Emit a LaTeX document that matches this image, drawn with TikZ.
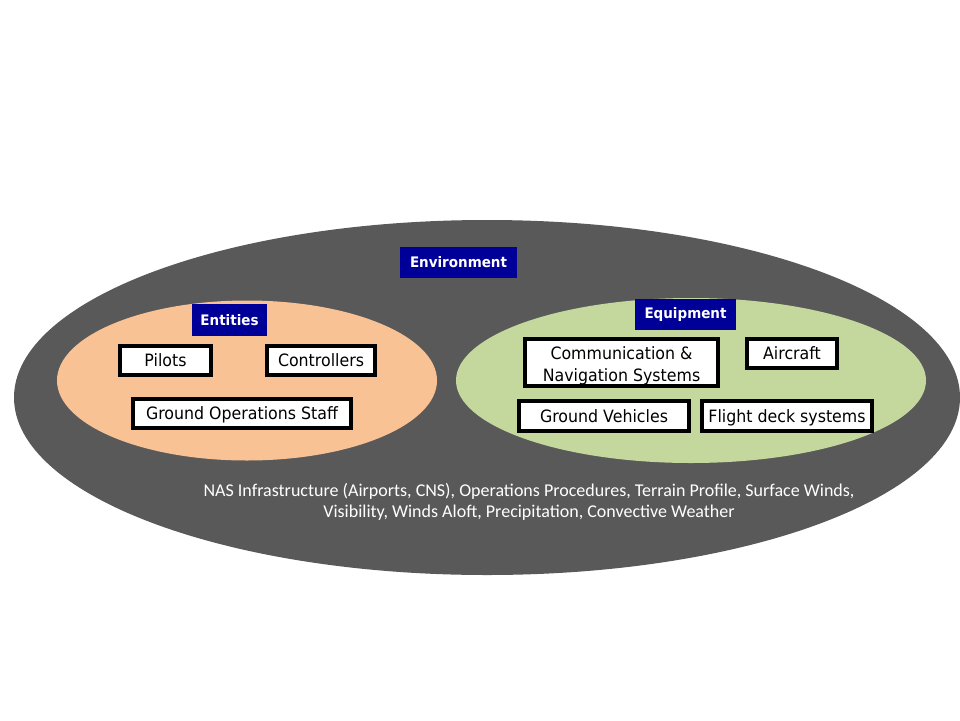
\documentclass[tikz,border=0pt]{standalone}
\usepackage{fontspec}
\usetikzlibrary{shapes.geometric}
\newfontfamily\boxfont{DejaVu Sans}[FakeStretch=0.93]
\newfontfamily\envfont{Carlito}
\definecolor{envgrey}{HTML}{595959}
\definecolor{entorange}{HTML}{F8C295}
\definecolor{eqgreen}{HTML}{C4D79C}
\definecolor{tagblue}{HTML}{000099}
\tikzset{
  region/.style={ellipse, inner sep=0pt, draw=none},
  itembox/.style={draw=black, line width=3.6pt, fill=white, inner sep=0pt,
    font=\boxfont\fontsize{17}{22}\selectfont, align=center},
  oneline/.style={text height=12.4pt, text depth=0pt},
  tagbox/.style={fill=tagblue, text=white, inner sep=0pt,
    font=\boxfont\bfseries\fontsize{14.5}{17}\selectfont},
}
\begin{document}
\begin{tikzpicture}[x=1pt,y=-1pt]
\useasboundingbox (0,0) rectangle (960,720);
\fill[white] (0,0) rectangle (960,720);
% ellipses
\node[region, fill=envgrey, minimum width=946pt, minimum height=355pt] (env) at (487,397.5) {};
\node[region, fill=entorange, minimum width=380pt, minimum height=160pt] (ent) at (247,380.5) {};
\node[region, fill=eqgreen, minimum width=470pt, minimum height=165pt] (eq) at (691,380.5) {};
% tags
\node[tagbox, minimum width=117pt, minimum height=31pt] (envtag) at (458.5,262.5) {Environment};
\node[tagbox, minimum width=75pt, minimum height=32pt] (enttag) at (229.5,320) {Entities};
\node[tagbox, minimum width=101pt, minimum height=31pt] (eqtag) at (685.5,314.5) {Equipment};
% entity boxes
\node[itembox, oneline, minimum width=91pt, minimum height=29pt] (pilots) at (165.5,360.5) {Pilots};
\node[itembox, oneline, minimum width=108pt, minimum height=29pt] (ctrl) at (321,360.5) {Controllers};
\node[itembox, oneline, minimum width=218pt, minimum height=29pt] (gos) at (242,413.5) {Ground Operations Staff};
% equipment boxes
\node[itembox, minimum width=193pt, minimum height=47pt] (cns) at (621.5,362.5) {\rule{0pt}{19pt}Communication \&\\Navigation Systems};
\node[itembox, oneline, minimum width=90pt, minimum height=29pt] (ac) at (792,353.5) {Aircraft};
\node[itembox, oneline, minimum width=170pt, minimum height=30pt] (gv) at (604,416) {Ground Vehicles};
\node[itembox, oneline, minimum width=170pt, minimum height=30pt] (fd) at (787,416) {Flight deck systems};
% environment text
\node[text=white, align=center, font=\envfont\fontsize{18}{21}\selectfont] (envtext) at (529,501.5)
 {NAS Infrastructure (Airports, CNS), Operations Procedures, Terrain Profile, Surface Winds,\\
  Visibility, Winds Aloft, Precipitation, Convective Weather};
\end{tikzpicture}
\end{document}
